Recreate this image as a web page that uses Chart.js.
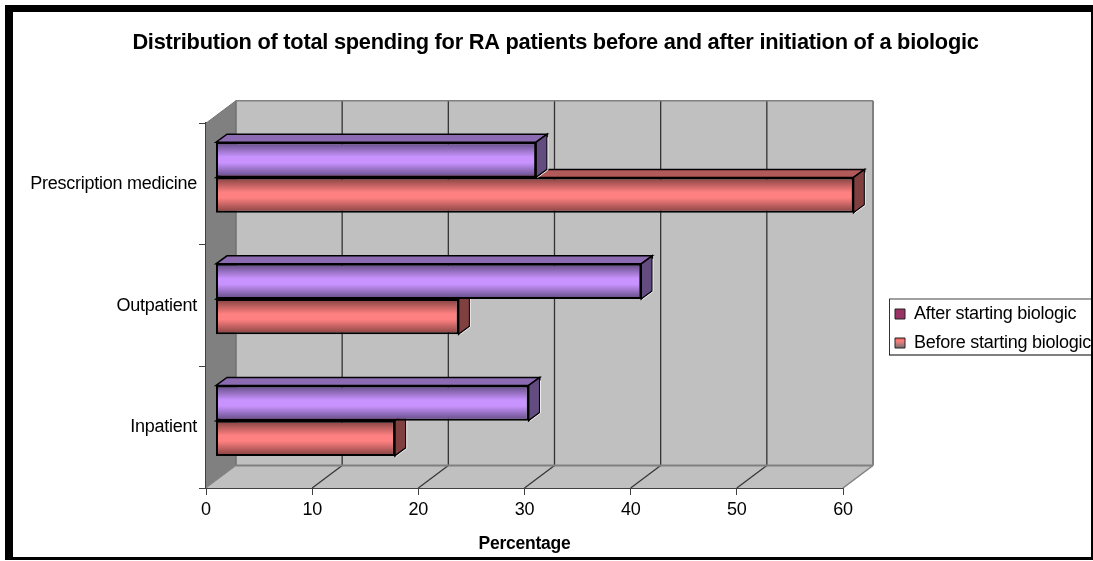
<!DOCTYPE html>
<html>
<head>
<meta charset="utf-8">
<title>Distribution of total spending</title>
<script src="https://cdn.jsdelivr.net/npm/chart.js@4"></script>
<style>
    html, body { margin: 0; padding: 0; background: #fff; }
    canvas { display: block; }
</style>
</head>
<body>
<canvas id="myChart" width="1093" height="561"></canvas>
<script>
// values in percent
const categories = ['Prescription medicine', 'Outpatient', 'Inpatient'];
const afterValues = [30.2, 40.1, 29.5];
const beforeValues = [60.1, 22.9, 16.9];
const xTicks = [0, 10, 20, 30, 40, 50, 60];

const titleText = 'Distribution of total spending for RA patients before and after initiation of a biologic';
const xAxisTitle = 'Percentage';

const FONT = '"Liberation Sans", Arial, sans-serif';

// depth of the box and of the bars inside it
const WALL_DX = 30, WALL_DY = -22.5;
const BAR_SHIFT_X = 9.5, BAR_SHIFT_Y = -6.5;
const BAR_DX = 11, BAR_DY = -8;
const CATEGORY_SHARE = 0.58;

function poly(ctx, pts, fill, stroke, lw) {
    ctx.beginPath();
    pts.forEach((p, i) => i ? ctx.lineTo(p[0], p[1]) : ctx.moveTo(p[0], p[1]));
    ctx.closePath();
    if (fill) { ctx.fillStyle = fill; ctx.fill(); }
    if (stroke) { ctx.strokeStyle = stroke; ctx.lineWidth = lw || 1; ctx.stroke(); }
}

function line(ctx, x1, y1, x2, y2, color, lw) {
    ctx.beginPath();
    ctx.moveTo(x1, y1);
    ctx.lineTo(x2, y2);
    ctx.strokeStyle = color;
    ctx.lineWidth = lw;
    ctx.stroke();
}

// black outer frame and legend box
const framePlugin = {
    id: 'frame',
    beforeDraw(chart) {
        const ctx = chart.ctx;
        // canvas state is reset by chart setup, so the tighter text goes here
        ctx.letterSpacing = '-0.25px';
        ctx.save();
        ctx.fillStyle = '#000';
        ctx.fillRect(5, 5, 1088, 7);
        ctx.fillRect(5, 5, 8, 554);
        ctx.fillRect(5, 557, 1088, 3);
        ctx.fillRect(1091, 5, 2, 555);
        line(ctx, 889, 299, 1091, 299, '#808080', 1.5);
        line(ctx, 889.5, 299, 889.5, 355, '#333', 1);
        line(ctx, 889, 355, 1091, 355, '#000', 1);
        ctx.restore();
    }
};

// back wall, side wall and floor, drawn from the axis scales
const boxPlugin = {
    id: 'box3d',
    beforeDatasetsDraw(chart) {
        const ctx = chart.ctx;
        const { left, right, top, bottom } = chart.chartArea;
        const x = chart.scales.x;
        ctx.save();
        // back wall
        poly(ctx, [[left + WALL_DX, top + WALL_DY], [right + WALL_DX, top + WALL_DY],
            [right + WALL_DX, bottom + WALL_DY], [left + WALL_DX, bottom + WALL_DY]], '#c0c0c0');
        // floor
        poly(ctx, [[left, bottom], [right, bottom], [right + WALL_DX, bottom + WALL_DY],
            [left + WALL_DX, bottom + WALL_DY]], '#c0c0c0');
        // side wall
        poly(ctx, [[left, top], [left + WALL_DX, top + WALL_DY], [left + WALL_DX, bottom + WALL_DY],
            [left, bottom]], '#808080');
        // grid lines on wall and floor
        xTicks.forEach((v, i) => {
            const px = x.getPixelForValue(v);
            if (i > 0 && i < xTicks.length - 1) {
                line(ctx, px + WALL_DX, top + WALL_DY, px + WALL_DX, bottom + WALL_DY, '#333', 1.3);
                line(ctx, px, bottom, px + WALL_DX, bottom + WALL_DY, '#333', 1.2);
            }
        });
        line(ctx, left + WALL_DX, top + WALL_DY, right + WALL_DX, top + WALL_DY, '#808080', 1.5);
        line(ctx, left + WALL_DX, top + WALL_DY, left + WALL_DX, bottom + WALL_DY, '#707070', 1.5);
        line(ctx, right + WALL_DX, top + WALL_DY, right + WALL_DX, bottom + WALL_DY, '#808080', 2);
        line(ctx, left + WALL_DX, bottom + WALL_DY, right + WALL_DX, bottom + WALL_DY, '#808080', 2);
        line(ctx, right, bottom, right + WALL_DX, bottom + WALL_DY, '#808080', 1.5);
        line(ctx, left, top, left + WALL_DX, top + WALL_DY, '#707070', 1);
        line(ctx, left, bottom, left + WALL_DX, bottom + WALL_DY, '#808080', 1);
        ctx.restore();

        // the bars stand in front of the back wall, shifted away from the axis
        ctx.save();
        ctx.translate(BAR_SHIFT_X, BAR_SHIFT_Y);
        // top and end faces, lower series first so the upper one covers it
        [1, 0].forEach(d => {
            const topColor = d === 0 ? '#8d6bb3' : '#b25959';
            const sideColor = d === 0 ? '#634d80' : '#804040';
            chart.getDatasetMeta(d).data.forEach(bar => {
                const yt = bar.y - bar.height / 2;
                const yb = bar.y + bar.height / 2;
                poly(ctx, [[bar.base, yt], [bar.x, yt], [bar.x + BAR_DX, yt + BAR_DY], [bar.base + BAR_DX, yt + BAR_DY]],
                    topColor, '#000', 1.5);
                poly(ctx, [[bar.x, yt], [bar.x + BAR_DX, yt + BAR_DY], [bar.x + BAR_DX, yb + BAR_DY], [bar.x, yb]],
                    sideColor, '#000', 1.5);
                // light edge along the lower side of the end face
                line(ctx, bar.x + 1, yb + 0.5, bar.x + BAR_DX + 0.8, yb + BAR_DY + 0.5, '#eee', 1);
                line(ctx, bar.x + BAR_DX + 0.8, yb + BAR_DY + 0.5, bar.x + BAR_DX + 0.8, yt + BAR_DY + 3, '#eee', 1);
            });
        });
        // leave the translation on for the bar fronts
    },
    afterDatasetsDraw(chart) {
        chart.ctx.restore();
    },
    afterLayout(chart) {
        // legend sits at a fixed place right of the plot
        const lg = chart.legend;
        lg.left = 884;
        lg.right = 1091;
        lg.top = 294;
        lg.bottom = 420;
        // title is centred a little to the right of the plot
        chart.titleBlock.left = 0;
        chart.titleBlock.right = 1111;
    }
};

function bandGradient(chart, dataIndex, datasetIndex, dark, light) {
    const area = chart.chartArea;
    if (!area) return light;
    const yScale = chart.scales.y;
    const c = yScale.getPixelForTick(dataIndex);
    const h = yScale.height / categories.length * CATEGORY_SHARE / 2;
    const y0 = datasetIndex === 0 ? c - h : c;
    const g = chart.ctx.createLinearGradient(0, y0, 0, y0 + h);
    g.addColorStop(0, dark);
    g.addColorStop(0.42, light);
    g.addColorStop(0.58, light);
    g.addColorStop(1, dark);
    return g;
}

const ctx = document.getElementById('myChart').getContext('2d');

const chart = new Chart(ctx, {
    type: 'bar',
    data: {
        labels: categories,
        datasets: [
            {
                label: 'After starting biologic',
                data: afterValues,
                backgroundColor: c => bandGradient(c.chart, c.dataIndex, 0, '#5f4a80', '#c993ff'),
                borderColor: '#000',
                borderWidth: 2,
                borderSkipped: false,
                clip: false
            },
            {
                label: 'Before starting biologic',
                data: beforeValues,
                backgroundColor: c => bandGradient(c.chart, c.dataIndex, 1, '#804040', '#ff8080'),
                borderColor: '#000',
                borderWidth: 2,
                borderSkipped: false,
                clip: false
            }
        ]
    },
    options: {
        indexAxis: 'y',
        responsive: false,
        animation: false,
        categoryPercentage: CATEGORY_SHARE,
        barPercentage: 1,
        layout: { padding: { left: 0, right: 250, top: 0, bottom: 0 } },
        scales: {
            x: {
                type: 'linear',
                min: 0,
                max: 60,
                afterFit: s => { s.height = 73; },
                afterBuildTicks: s => { s.ticks = xTicks.map(v => ({ value: v })); },
                grid: { drawOnChartArea: false, color: '#404040', tickLength: 7, lineWidth: 1 },
                border: { color: '#404040', width: 2 },
                ticks: { color: '#000', font: { family: FONT, size: 18 }, maxRotation: 0, padding: 4 },
                title: {
                    display: true,
                    text: xAxisTitle,
                    color: '#000',
                    font: { family: FONT, size: 17.5, weight: 'bold' },
                    padding: { top: 0, bottom: 6 }
                }
            },
            y: {
                type: 'category',
                afterFit: s => { s.width = 206; },
                grid: { drawOnChartArea: false, offset: true, color: '#404040', tickLength: 7, lineWidth: 1 },
                border: { color: '#404040', width: 2 },
                ticks: { color: '#000', font: { family: FONT, size: 18 }, padding: 2 }
            }
        },
        plugins: {
            title: {
                display: true,
                text: titleText,
                color: '#000',
                font: { family: FONT, size: 21.8, weight: 'bold', lineHeight: 1.2 },
                padding: { top: 30, bottom: 67 }
            },
            legend: {
                display: true,
                position: 'chartArea',
                align: 'start',
                labels: {
                    color: '#000',
                    font: { family: FONT, size: 18 },
                    boxWidth: 10,
                    boxHeight: 10,
                    padding: 11,
                    generateLabels: c => {
                        const before = c.ctx.createLinearGradient(0, 336, 0, 348);
                        before.addColorStop(0, '#c0392b');
                        before.addColorStop(0.4, '#ff8080');
                        before.addColorStop(1, '#707070');
                        return [
                            { text: c.data.datasets[0].label, fillStyle: '#993366', strokeStyle: '#222', lineWidth: 1, datasetIndex: 0 },
                            { text: c.data.datasets[1].label, fillStyle: before, strokeStyle: '#222', lineWidth: 1, datasetIndex: 1 }
                        ];
                    }
                }
            },
            tooltip: { enabled: false }
        }
    },
    plugins: [framePlugin, boxPlugin]
});
</script>
</body>
</html>
